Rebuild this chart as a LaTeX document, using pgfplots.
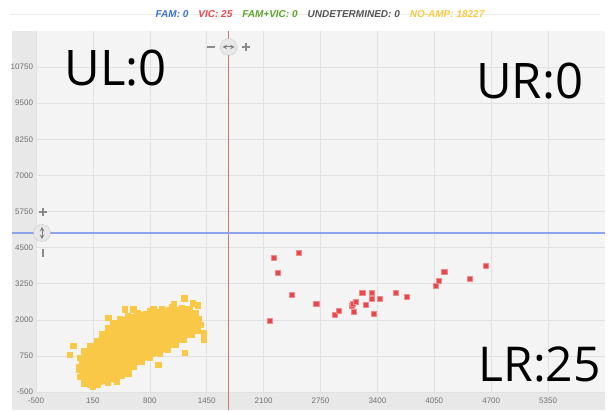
\documentclass[border=0pt]{standalone}
\usepackage{pgfplots}
\pgfplotsset{compat=1.18}
\usepackage{fontspec}
\setmainfont{Liberation Sans}
\newfontfamily\bigfont{Open Sans}
\definecolor{yel}{HTML}{F9C846}
\definecolor{vred}{HTML}{E8474B}
\definecolor{vredb}{HTML}{F08A8C}
\definecolor{plotbg}{HTML}{F4F4F4}
\definecolor{bandgray}{HTML}{E8E8E8}
\definecolor{gridc}{HTML}{E0E2E2}
\definecolor{tickc}{HTML}{707070}
\definecolor{famblue}{HTML}{3A70D8}
\definecolor{famgreen}{HTML}{5AA62C}
\definecolor{undgray}{HTML}{555555}
\definecolor{redline}{HTML}{C9787A}
\definecolor{blueline}{HTML}{8EA2EE}
\definecolor{handle}{HTML}{8A8A8A}
\begin{document}
\begin{tikzpicture}[x=1pt,y=1pt]
\path[use as bounding box] (-36,-18) rectangle (572,392);
\fill[white] (-36,-18) rectangle (572,392);
\draw[gridc!60, line width=0.6pt] (-26,378) -- (564,378);
\fill[bandgray] (-24,-18) rectangle (569,361);
\begin{axis}[
  at={(0,0)}, anchor=south west, scale only axis,
  width=569pt, height=361pt,
  xmin=-500, xmax=6000, ymin=-500, ymax=12000,
  xtick={-500,150,...,5350},
  ytick={-500,750,...,10750},
  grid=major,
  major grid style={gridc, line width=0.6pt},
  axis background/.style={fill=plotbg},
  axis line style={draw=none},
  major tick length=0pt,
  tick label style={font=\fontsize{8}{9}\selectfont, text=tickc},
  xticklabel style={yshift=-5pt, inner sep=1pt},
  yticklabel style={xshift=0.5pt},
  scaled ticks=false,
  clip=false,
  /pgf/number format/1000 sep={},
  /pgf/number format/assume math mode=true,
]
% NO-AMP cloud (dense core drawn as area, edge points as marks)
\addplot[fill=yel, draw=yel, line width=1pt] coordinates {
(47,-222) (2,21) (-10,368) (2,680) (47,924) (116,1097) (196,1271) (253,1514)
(321,1722) (378,1896) (458,2035) (549,2139) (663,2243) (800,2312) (937,2382)
(1051,2451) (1165,2416) (1256,2382) (1325,2243) (1359,2035) (1382,1826)
(1347,1618) (1279,1479) (1188,1305) (1097,1132) (1005,958) (914,819) (800,680)
(709,542) (618,368) (549,229) (481,56) (412,-83) (321,-188) (207,-257) (116,-257)
} -- cycle;
\addplot[only marks, mark=square*, mark size=2.7pt, color=yel] coordinates {
(47,-222) (2,21) (-10,368) (2,680) (47,924) (116,1097) (196,1271) (253,1514)
(321,1722) (378,1896) (458,2035) (549,2139) (663,2243) (800,2312) (937,2382)
(1051,2451) (1165,2416) (1256,2382) (1325,2243) (1359,2035) (1382,1826)
(1347,1618) (1279,1479) (1188,1305) (1097,1132) (1005,958) (914,819) (800,680)
(709,542) (618,368) (549,229) (481,56) (412,-83) (321,-188) (207,-257) (116,-257)
(-75,1097) (-112,785) (324,2080) (515,2371) (610,2371) (1191,2753) (1074,2545)
(1344,2510) (1237,2371) (1416,1559) (1416,1330) (1199,864) (895,437) (-6,288)
(553,149) (838,2371) (971,2278) (150,-300) (60,-120) (420,-150) (1290,2580)
};
% VIC points
\addplot[only marks, mark=square*, mark size=2.6pt, color=vred,
  mark options={draw=vredb, line width=0.4pt}] coordinates {
(2211,4163) (2499,4326) (2263,3642) (2423,2857) (2701,2566) (2169,1976)
(2913,2184) (2955,2312) (3107,2476) (3119,2545) (3149,2635) (3130,2278)
(3226,2927) (3267,2510) (3332,2927) (3332,2729) (3355,2208) (3426,2729)
(3609,2927) (3739,2798) (4070,3191) (4099,3343) (4164,3677) (4453,3413)
(4635,3875)
};
% threshold lines
\draw[redline, line width=1.2pt] (axis cs:1700,-1123) -- (axis cs:1700,12000);
\draw[blueline, line width=1.4pt] (axis cs:-774,5000) -- (axis cs:6000,5000);
% quadrant counts
\node[anchor=base west, inner sep=0pt, text depth=0pt, font=\bigfont\fontsize{49}{54}\selectfont] at (rel axis cs:0.050,0.850) {UL:0};
\node[anchor=base east, inner sep=0pt, text depth=0pt, font=\bigfont\fontsize{49}{54}\selectfont] at (rel axis cs:0.962,0.814) {UR:0};
\node[anchor=base east, inner sep=0pt, text depth=0pt, font=\bigfont\fontsize{48}{54}\selectfont] at (rel axis cs:0.993,0.028) {LR:25};
\end{axis}
% handles
\draw[handle, densely dotted, fill=bandgray] (192.6,345) circle (8.5);
\draw[handle!90!black, <->, >=stealth, line width=1pt] (186.5,345) -- (198.7,345);
\draw[handle, line width=1.2pt] (171,345) -- (179,345);
\draw[handle, line width=1.2pt] (206,345) -- (214,345) (210,341) -- (210,349);
\draw[handle, densely dotted, fill=bandgray] (6,159) circle (8.5);
\draw[handle!90!black, <->, >=stealth, line width=1pt] (6,152.9) -- (6,165.1);
\draw[handle, line width=1.2pt] (3,180) -- (11,180) (7,176) -- (7,184);
\draw[handle, line width=1.2pt] (7,135) -- (7,143);
% legend
\node[font=\fontsize{10}{12}\selectfont\bfseries\itshape] at (284,378) {%
\textcolor{famblue}{FAM: 0}\hspace{10pt}%
\textcolor{vred}{VIC: 25}\hspace{10pt}%
\textcolor{famgreen}{FAM+VIC: 0}\hspace{10pt}%
\textcolor{undgray}{UNDETERMINED: 0}\hspace{10pt}%
\textcolor{yel}{NO-AMP: 18227}};
\end{tikzpicture}
\end{document}
